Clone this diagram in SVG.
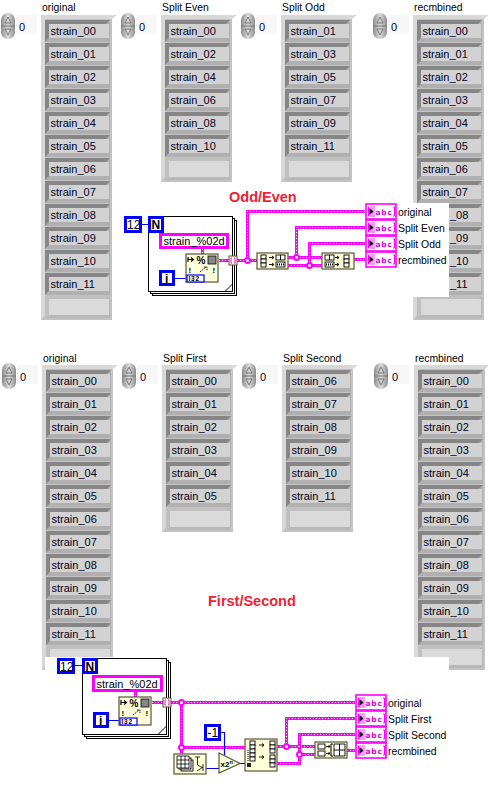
<svg xmlns="http://www.w3.org/2000/svg" width="488" height="797" viewBox="0 0 488 797">
<style>
text{font-family:"Liberation Sans",Arial,sans-serif;fill:#000}
.cell{font-size:11px;fill:#00001c}
.lab{font-size:10.4px}
.idx{font-size:11px;fill:#00002a}
.title{font-size:14.5px;font-weight:700;fill:#ee2233}
.str{font-size:11px}
.nbox{fill:#fff;stroke:#0000ff;stroke-width:3}
.sbox{fill:#fff;stroke:#ff00ff;stroke-width:3}
.node{fill:#ffffd9;stroke:#55553a;stroke-width:1.2}
.wb{fill:none;stroke:#ff00ff;stroke-width:3;shape-rendering:crispEdges}
.wd{fill:none;stroke:#fff;stroke-width:1;stroke-dasharray:1 2;shape-rendering:crispEdges}
.bw{fill:none;stroke:#0000ff;stroke-width:1.2}
.loop{fill:#fff;stroke:#000;stroke-width:1;shape-rendering:crispEdges}
.jn{fill:#fff;stroke:#ff00ff;stroke-width:2}
.abc{font-family:"DejaVu Sans",sans-serif;font-size:7.5px;font-weight:700;fill:#e000e0;letter-spacing:.8px}
.ic{fill:#fff;stroke:#000;stroke-width:.9}
.num{font-size:12px}
</style>
<defs>
<linearGradient id="sg" x1="0" x2="1" y1="0" y2="0"><stop offset="0" stop-color="#8c8c8c"/><stop offset=".5" stop-color="#dcdcdc"/><stop offset="1" stop-color="#8c8c8c"/></linearGradient>
<g id="spin">
<rect x="0" y="0" width="14" height="26" rx="7" ry="7" fill="url(#sg)"/>
<path d="M0 13H14" stroke="#777" stroke-width="1"/>
<path d="M7 4L10 10H4Z M7 22L10 16H4Z" fill="#d4d4d4" stroke="#666" stroke-width=".8"/>
</g>
<g id="c">
<rect width="65" height="22" fill="#b0b0b0"/>
<path d="M0 0H65L61 4H4V18L0 22Z" fill="#868686"/>
<rect x="4" y="4" width="60" height="14" fill="#d2d2d2"/>
</g>
<g id="b">
<rect width="65" height="22" fill="#b8b8b8"/>
<path d="M0 0H65L61 3H4V19L0 22Z" fill="#c0c0c0"/>
<rect x="4" y="3" width="60" height="16" fill="#dadada"/>
</g>
<g id="f12">
<rect width="71" height="305" fill="#c2c2c2"/>
<path d="M0 0H76L71 4H4V300L0 305Z" fill="#d8d8d8"/>
</g>
<g id="f6">
<rect width="71" height="167" fill="#c2c2c2"/>
<path d="M0 0H76L71 4H4V162L0 167Z" fill="#d8d8d8"/>
</g>
<g id="ind">
<rect x="1" y="1" width="30" height="15" fill="#fff" stroke="#ff00ff" stroke-width="1.6"/>
<path d="M5 4H3.5V13H5 M28 4H29.5V13H28" fill="none" stroke="#ff00ff" stroke-width="1"/>
<rect x="4" y="3" width="6" height="11" fill="#ff99ff"/>
<path d="M4.500 5L8.500 8.500L4.500 12Z" fill="#000"/>
<text class="abc" x="10.500" y="11.500">abc</text>
</g>
<g id="fmt">
<rect class="node" width="32" height="28"/>
<path d="M2 3V8 M2 5.500H7 M5 3.500L7.500 5.500L5 7.500" fill="none" stroke="#000" stroke-width="1.200"/>
<text x="10.500" y="10" font-size="10" font-weight="700">%</text>
<rect x="22" y="2" width="8" height="8" fill="#888" stroke="#000" stroke-width=".8"/>
<text x="2.500" y="19" font-size="8" font-weight="700">!</text>
<text x="26.500" y="19" font-size="8" font-weight="700">!</text>
<path d="M14 18L20 13 M18 13H21V16" fill="none" stroke="#000" stroke-width=".9" stroke-dasharray="1.500 .8"/>
<rect x="1" y="21" width="17" height="7" fill="#fff" stroke="#0000ff" stroke-width="1.200"/>
<text x="2.500" y="27" font-size="6.500" font-weight="700" fill="#0000ff" letter-spacing=".8">I32</text>
</g>
<g id="split">
<rect class="node" width="31" height="16"/>
<rect class="ic" x="4" y="2" width="5" height="4"/><rect class="ic" x="4" y="6" width="5" height="4"/><rect class="ic" x="4" y="10" width="5" height="4"/>
<path d="M12 4.500H17 M15 3L17 4.500L15 6 M12 11.500H17 M15 10L17 11.500L15 13" fill="none" stroke="#000" stroke-width=".9"/>
<rect class="ic" x="19" y="2" width="9" height="5"/><path d="M23.500 2V7" stroke="#000" stroke-width=".9"/>
<rect class="ic" x="19" y="9" width="9" height="5"/><path d="M20 11.500H27" stroke="#000" stroke-dasharray="1 1" stroke-width="2"/>
</g>
<g id="merge">
<rect class="node" width="32" height="16"/>
<rect class="ic" x="3" y="2" width="9" height="5"/><path d="M7.500 2V7" stroke="#000" stroke-width=".9"/>
<rect class="ic" x="3" y="9" width="9" height="5"/><path d="M4 11.500H11" stroke="#000" stroke-dasharray="1 1" stroke-width="2"/>
<path d="M13 4.500H17 M15 3L17 4.500L15 6 M13 11.500H17 M15 10L17 11.500L15 13" fill="none" stroke="#000" stroke-width=".9"/>
<rect class="ic" x="22" y="2" width="5" height="4"/><rect class="ic" x="22" y="6" width="5" height="4"/><rect class="ic" x="22" y="10" width="5" height="4"/>
</g>
</defs>

<g id="arrays-top">
<g id="top-original" transform="translate(41,15)">
<use href="#f12"/>
<g transform="translate(4,5)"><use href="#c"/><use href="#c" y="23"/><use href="#c" y="46"/><use href="#c" y="69"/><use href="#c" y="92"/><use href="#c" y="115"/><use href="#c" y="138"/><use href="#c" y="161"/><use href="#c" y="184"/><use href="#c" y="207"/><use href="#c" y="230"/><use href="#c" y="253"/><use href="#b" y="276"/></g>
<g transform="translate(9.500,20)"><text class="cell">strain_00</text><text class="cell" y="23">strain_01</text><text class="cell" y="46">strain_02</text><text class="cell" y="69">strain_03</text><text class="cell" y="92">strain_04</text><text class="cell" y="115">strain_05</text><text class="cell" y="138">strain_06</text><text class="cell" y="161">strain_07</text><text class="cell" y="184">strain_08</text><text class="cell" y="207">strain_09</text><text class="cell" y="230">strain_10</text><text class="cell" y="253">strain_11</text></g>
</g>
<g id="top-even" transform="translate(161,15)">
<use href="#f6"/>
<g transform="translate(4,5)"><use href="#c"/><use href="#c" y="23"/><use href="#c" y="46"/><use href="#c" y="69"/><use href="#c" y="92"/><use href="#c" y="115"/><use href="#b" y="138"/></g>
<g transform="translate(9.500,20)"><text class="cell">strain_00</text><text class="cell" y="23">strain_02</text><text class="cell" y="46">strain_04</text><text class="cell" y="69">strain_06</text><text class="cell" y="92">strain_08</text><text class="cell" y="115">strain_10</text></g>
</g>
<g id="top-odd" transform="translate(281,15)">
<use href="#f6"/>
<g transform="translate(4,5)"><use href="#c"/><use href="#c" y="23"/><use href="#c" y="46"/><use href="#c" y="69"/><use href="#c" y="92"/><use href="#c" y="115"/><use href="#b" y="138"/></g>
<g transform="translate(9.500,20)"><text class="cell">strain_01</text><text class="cell" y="23">strain_03</text><text class="cell" y="46">strain_05</text><text class="cell" y="69">strain_07</text><text class="cell" y="92">strain_09</text><text class="cell" y="115">strain_11</text></g>
</g>
<g id="top-recombined" transform="translate(413,15)">
<use href="#f12"/>
<g transform="translate(4,5)"><use href="#c"/><use href="#c" y="23"/><use href="#c" y="46"/><use href="#c" y="69"/><use href="#c" y="92"/><use href="#c" y="115"/><use href="#c" y="138"/><use href="#c" y="161"/><use href="#c" y="184"/><use href="#c" y="207"/><use href="#c" y="230"/><use href="#c" y="253"/><use href="#b" y="276"/></g>
<g transform="translate(9.500,20)"><text class="cell">strain_00</text><text class="cell" y="23">strain_01</text><text class="cell" y="46">strain_02</text><text class="cell" y="69">strain_03</text><text class="cell" y="92">strain_04</text><text class="cell" y="115">strain_05</text><text class="cell" y="138">strain_06</text><text class="cell" y="161">strain_07</text></g>
</g>
<g id="top-controls">
<use href="#spin" x="1" y="13"/><use href="#spin" x="121" y="13"/><use href="#spin" x="241" y="13"/><use href="#spin" x="373" y="13"/>
<rect x="16" y="15" width="21" height="19" fill="#f7f7f7"/><rect x="136" y="15" width="21" height="19" fill="#f7f7f7"/><rect x="256" y="15" width="21" height="19" fill="#f7f7f7"/><rect x="388" y="15" width="21" height="19" fill="#f7f7f7"/>
<text class="idx" x="19" y="31">0</text><text class="idx" x="139" y="31">0</text><text class="idx" x="259" y="31">0</text><text class="idx" x="391" y="31">0</text>
<text class="lab" x="42" y="11">original</text><text class="lab" x="162" y="11">Split Even</text><text class="lab" x="282" y="11">Split Odd</text><text class="lab" x="414" y="11">recmbined</text>
</g>
</g>

<g id="arrays-bottom">
<g id="bot-original" transform="translate(42,365)">
<use href="#f12"/>
<g transform="translate(4,5)"><use href="#c"/><use href="#c" y="23"/><use href="#c" y="46"/><use href="#c" y="69"/><use href="#c" y="92"/><use href="#c" y="115"/><use href="#c" y="138"/><use href="#c" y="161"/><use href="#c" y="184"/><use href="#c" y="207"/><use href="#c" y="230"/><use href="#c" y="253"/><use href="#b" y="276"/></g>
<g transform="translate(9.500,20)"><text class="cell">strain_00</text><text class="cell" y="23">strain_01</text><text class="cell" y="46">strain_02</text><text class="cell" y="69">strain_03</text><text class="cell" y="92">strain_04</text><text class="cell" y="115">strain_05</text><text class="cell" y="138">strain_06</text><text class="cell" y="161">strain_07</text><text class="cell" y="184">strain_08</text><text class="cell" y="207">strain_09</text><text class="cell" y="230">strain_10</text><text class="cell" y="253">strain_11</text></g>
</g>
<g id="bot-first" transform="translate(162,365)">
<use href="#f6"/>
<g transform="translate(4,5)"><use href="#c"/><use href="#c" y="23"/><use href="#c" y="46"/><use href="#c" y="69"/><use href="#c" y="92"/><use href="#c" y="115"/><use href="#b" y="138"/></g>
<g transform="translate(9.500,20)"><text class="cell">strain_00</text><text class="cell" y="23">strain_01</text><text class="cell" y="46">strain_02</text><text class="cell" y="69">strain_03</text><text class="cell" y="92">strain_04</text><text class="cell" y="115">strain_05</text></g>
</g>
<g id="bot-second" transform="translate(282,365)">
<use href="#f6"/>
<g transform="translate(4,5)"><use href="#c"/><use href="#c" y="23"/><use href="#c" y="46"/><use href="#c" y="69"/><use href="#c" y="92"/><use href="#c" y="115"/><use href="#b" y="138"/></g>
<g transform="translate(9.500,20)"><text class="cell">strain_06</text><text class="cell" y="23">strain_07</text><text class="cell" y="46">strain_08</text><text class="cell" y="69">strain_09</text><text class="cell" y="92">strain_10</text><text class="cell" y="115">strain_11</text></g>
</g>
<g id="bot-recombined" transform="translate(414,365)">
<use href="#f12"/>
<g transform="translate(4,5)"><use href="#c"/><use href="#c" y="23"/><use href="#c" y="46"/><use href="#c" y="69"/><use href="#c" y="92"/><use href="#c" y="115"/><use href="#c" y="138"/><use href="#c" y="161"/><use href="#c" y="184"/><use href="#c" y="207"/><use href="#c" y="230"/><use href="#c" y="253"/><use href="#b" y="276"/></g>
<g transform="translate(9.500,20)"><text class="cell">strain_00</text><text class="cell" y="23">strain_01</text><text class="cell" y="46">strain_02</text><text class="cell" y="69">strain_03</text><text class="cell" y="92">strain_04</text><text class="cell" y="115">strain_05</text><text class="cell" y="138">strain_06</text><text class="cell" y="161">strain_07</text><text class="cell" y="184">strain_08</text><text class="cell" y="207">strain_09</text><text class="cell" y="230">strain_10</text><text class="cell" y="253">strain_11</text></g>
</g>
<g id="bot-controls">
<use href="#spin" x="2" y="363"/><use href="#spin" x="122" y="363"/><use href="#spin" x="242" y="363"/><use href="#spin" x="374" y="363"/>
<rect x="17" y="365" width="21" height="19" fill="#f7f7f7"/><rect x="137" y="365" width="21" height="19" fill="#f7f7f7"/><rect x="257" y="365" width="21" height="19" fill="#f7f7f7"/><rect x="389" y="365" width="21" height="19" fill="#f7f7f7"/>
<text class="idx" x="20" y="381">0</text><text class="idx" x="140" y="381">0</text><text class="idx" x="260" y="381">0</text><text class="idx" x="392" y="381">0</text>
<text class="lab" x="43" y="362">original</text><text class="lab" x="163" y="362">Split First</text><text class="lab" x="283" y="362">Split Second</text><text class="lab" x="415" y="362">recmbined</text>
</g>
</g>

<g id="block-backgrounds">
<rect x="366" y="203" width="83" height="94" fill="#fff"/>
<rect x="45" y="657" width="404" height="140" fill="#fff"/>
</g>

<g id="recmbined-visible-tails">
<text class="cell" x="450" y="219">_08</text><text class="cell" x="450" y="242">_09</text><text class="cell" x="450" y="265">_10</text><text class="cell" x="450" y="288">_11</text>
</g>

<text class="title" x="229" y="202">Odd/Even</text>
<text class="title" x="208" y="606">First/Second</text>

<g id="loop-top">
<rect class="loop" x="152.500" y="220.500" width="84" height="75"/>
<rect class="loop" x="150.500" y="218.500" width="84" height="75"/>
<rect class="loop" x="148.500" y="216.500" width="84" height="75"/>
<path d="M225 291.500L232.500 284V291.500Z" fill="#fff" stroke="#000"/>
</g>
<g id="loop-bottom">
<rect class="loop" x="86.500" y="662.500" width="84" height="76"/>
<rect class="loop" x="84.500" y="660.500" width="84" height="76"/>
<rect class="loop" x="82.500" y="658.500" width="84" height="76"/>
<path d="M158 734.500L166.500 726V734.500Z" fill="#fff" stroke="#000"/>
</g>

<g id="connectors">
<defs>
<path id="w1" d="M219 260.500H257 M247.500 260V211.500H365 M288 257.500H322 M288 265.500H322 M296.500 257V227.500H365 M309.500 265V243.500H365 M354 259.500H365 M202.500 249V254"/>
<path id="w2" d="M152 702.500H355 M181.500 702V754 M181 747.500H245 M277 746.500H315 M286.500 746V718.500H355 M277 763.500H299.500V734.500H355 M299 754.500H315 M347 750.500H355 M135.500 692V697"/>
</defs>
<use href="#w1" class="wb"/><use href="#w1" class="wd"/>
<use href="#w2" class="wb"/><use href="#w2" class="wd"/>
<circle class="jn" cx="247.500" cy="260.500" r="2.500"/><circle class="jn" cx="296.500" cy="257.500" r="2.500"/><circle class="jn" cx="309.500" cy="265.500" r="2.500"/>
<circle class="jn" cx="181.500" cy="702.500" r="2.500"/><circle class="jn" cx="181.500" cy="747.500" r="2.500"/><circle class="jn" cx="286.500" cy="746.500" r="2.500"/><circle class="jn" cx="299.500" cy="754.500" r="2.500"/>
<path class="bw" d="M141 224.500H148 M175 278.500H187 M74 665.500H82 M108 720.500H120 M206 768.500H219 M221 732.500H224.500V755 M240 763.500H245"/>
</g>

<g id="const-12-top"><rect class="nbox" x="125.500" y="217.500" width="15" height="14"/><text class="num" x="127" y="229">12</text></g>
<g id="n-top"><rect class="nbox" x="149.500" y="217.500" width="13" height="14"/><text x="151.500" y="229" font-size="12" font-weight="700" fill="#0000ff">N</text></g>
<g id="fmt-const-top"><rect class="sbox" x="160.500" y="234.500" width="67" height="13"/><text class="str" x="163.500" y="245">strain_%02d</text></g>
<g id="i-top"><rect class="nbox" x="160.500" y="271.500" width="13" height="13"/><text x="165" y="283" font-size="12" font-weight="700" fill="#0000ff">i</text></g>
<g id="format-top"><use href="#fmt" x="186" y="254"/></g>
<g id="tunnel-top"><rect x="229" y="256" width="8" height="9" fill="#ffffd9" stroke="#55553a"/><path d="M232 258H231V263H232 M234 258H235V263H234" fill="none" stroke="#ff00ff"/></g>
<g id="split-top"><use href="#split" x="257" y="253"/></g>
<g id="merge-top"><use href="#merge" x="322" y="253"/></g>
<g id="ind-top-1"><use href="#ind" x="365" y="203"/><text class="lab" x="398" y="216">original</text></g>
<g id="ind-top-2"><use href="#ind" x="365" y="219"/><text class="lab" x="398" y="232">Split Even</text></g>
<g id="ind-top-3"><use href="#ind" x="365" y="235"/><text class="lab" x="398" y="248">Split Odd</text></g>
<g id="ind-top-4"><use href="#ind" x="365" y="251"/><text class="lab" x="398" y="264">recmbined</text></g>

<g id="const-12-bot"><rect class="nbox" x="58.500" y="659.500" width="15" height="13"/><text class="num" x="60" y="670.500">12</text></g>
<g id="n-bot"><rect class="nbox" x="83.500" y="659.500" width="13" height="13"/><text x="85.500" y="670.500" font-size="12" font-weight="700" fill="#0000ff">N</text></g>
<g id="fmt-const-bot"><rect class="sbox" x="93.500" y="676.500" width="68" height="14"/><text class="str" x="96.500" y="688">strain_%02d</text></g>
<g id="i-bot"><rect class="nbox" x="94.500" y="713.500" width="13" height="13"/><text x="99" y="725" font-size="12" font-weight="700" fill="#0000ff">i</text></g>
<g id="format-bot"><use href="#fmt" x="119" y="697"/></g>
<g id="tunnel-bot"><rect x="163" y="698" width="8" height="9" fill="#ffffd9" stroke="#55553a"/><path d="M166 700H165V705H166 M168 700H169V705H168" fill="none" stroke="#ff00ff"/></g>
<g id="const-m1"><rect class="nbox" x="205.500" y="725.500" width="14" height="14"/><text class="num" x="207.500" y="737">-1</text></g>
<g id="reshape">
<rect class="node" x="174" y="754" width="32" height="20"/>
<rect x="181" y="760" width="12" height="11" class="ic"/><rect x="179" y="758" width="12" height="11" class="ic"/>
<path d="M177 756H189V768H177Z M181 756V768 M185 756V768 M177 760H189 M177 764H189" fill="#fff" stroke="#000" stroke-width=".8"/>
<path d="M195 757H200 M197.500 757V765L203 768M203 764V771M197 771L203 767" fill="none" stroke="#000" stroke-width=".8"/>
</g>
<g id="scale"><path d="M219 753L240 763.500L219 773Z" fill="#ffffd9" stroke="#55553a" stroke-width="1.200"/><text x="220.500" y="767" font-size="8" font-weight="700">x2<tspan font-size="5.500" dy="-3">n</tspan></text></g>
<g id="split-bot">
<rect class="node" x="245" y="739" width="32" height="32"/>
<rect class="ic" x="250" y="741" width="5" height="4"/><rect class="ic" x="250" y="745" width="5" height="4"/><rect class="ic" x="250" y="749" width="5" height="4"/><rect class="ic" x="250" y="753" width="5" height="4"/><rect class="ic" x="250" y="757" width="5" height="4"/>
<path d="M259 745H264 M262 743.500L264 745L262 746.500 M259 757H264 M262 755.500L264 757L262 758.500" fill="none" stroke="#000" stroke-width=".9"/>
<rect class="ic" x="270" y="741" width="5" height="4"/><rect class="ic" x="270" y="745" width="5" height="4"/><rect class="ic" x="270" y="749" width="5" height="4"/>
<rect class="ic" x="270" y="755" width="5" height="4"/><rect class="ic" x="270" y="759" width="5" height="4"/><rect class="ic" x="270" y="763" width="5" height="4"/>
<path d="M248 750V762" stroke="#000" stroke-width="1" stroke-dasharray="1 1"/><rect x="247" y="763" width="4" height="4" fill="#222"/>
</g>
<g id="merge-bot">
<rect class="node" x="315" y="742" width="32" height="16"/>
<rect class="ic" x="318" y="744" width="7" height="5"/><rect class="ic" x="318" y="751" width="7" height="5"/>
<path d="M326 746.500H330 M328.500 745L330 746.500L328.500 748 M326 753.500H330 M328.500 752L330 753.500L328.500 755" fill="none" stroke="#000" stroke-width=".9"/>
<path d="M333 744H331V756H333" fill="none" stroke="#000"/>
<path d="M334 744H345V756H334Z M339.500 744V756 M334 750H345" fill="#fff" stroke="#000" stroke-width=".9"/>
</g>
<g id="ind-bot-1"><use href="#ind" x="355" y="694"/><text class="lab" x="388" y="707">original</text></g>
<g id="ind-bot-2"><use href="#ind" x="355" y="710"/><text class="lab" x="388" y="723">Split First</text></g>
<g id="ind-bot-3"><use href="#ind" x="355" y="726"/><text class="lab" x="388" y="739">Split Second</text></g>
<g id="ind-bot-4"><use href="#ind" x="355" y="742"/><text class="lab" x="388" y="755">recmbined</text></g>
</svg>
